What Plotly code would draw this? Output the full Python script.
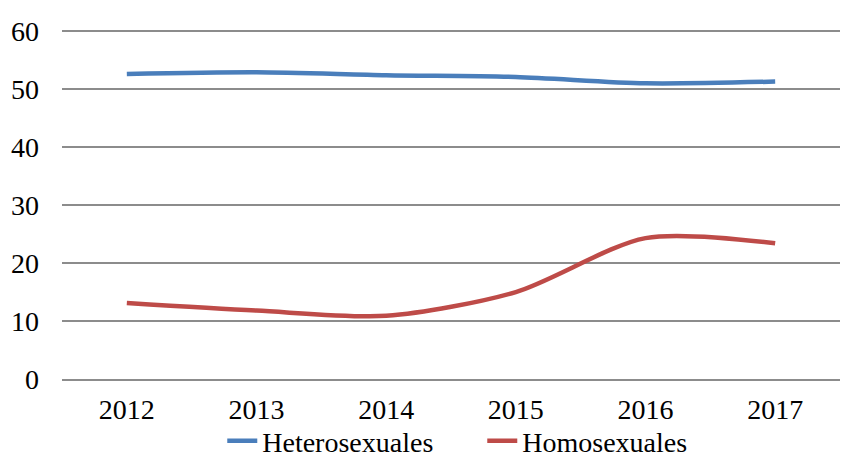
import plotly.graph_objects as go

years = ["2012", "2013", "2014", "2015", "2016", "2017"]
hetero = [52.6, 52.9, 52.4, 52.1, 51.0, 51.3]
homo = [13.1, 11.8, 10.9, 15.0, 24.3, 23.4]
y_ticks = [0, 10, 20, 30, 40, 50, 60]

fig = go.Figure()
fig.add_trace(go.Scatter(x=years, y=hetero, mode="lines", name="Heterosexuales",
                         line=dict(color="#4A7EBB", width=4.5, shape="spline", smoothing=0.8)))
fig.add_trace(go.Scatter(x=years, y=homo, mode="lines", name="Homosexuales",
                         line=dict(color="#BE4B48", width=4.5, shape="spline", smoothing=0.8)))

font = dict(family="Liberation Serif", size=28, color="#000000")
fig.update_layout(
    width=853, height=458,
    margin=dict(l=62, r=13, t=30, b=79, autoexpand=False),
    paper_bgcolor="white", plot_bgcolor="white",
    font=font,
    showlegend=True,
    legend=dict(orientation="h", x=0.206, xanchor="left", y=-0.178, yanchor="middle",
                font=dict(family="Liberation Serif", size=28, color="#000000"),
                bgcolor="rgba(0,0,0,0)",
                itemwidth=30, tracegroupgap=0, entrywidth=215),
    xaxis=dict(type="category", range=[-0.5, 5.5], showgrid=False, showline=True,
               linecolor="#8c8c8c", linewidth=1.5, ticks="", tickfont=font,
               ticklabelstandoff=5),
    yaxis=dict(range=[0, 60.2], tickvals=y_ticks, showgrid=True, gridcolor="#8c8c8c",
               gridwidth=1.5, zeroline=False, showline=False, ticks="", tickfont=font,
               ticklabelstandoff=22),
)
fig.write_html("out.html", config={"displayModeBar": False},
               post_script="document.body.style.margin='0';document.body.style.overflow='hidden';")
